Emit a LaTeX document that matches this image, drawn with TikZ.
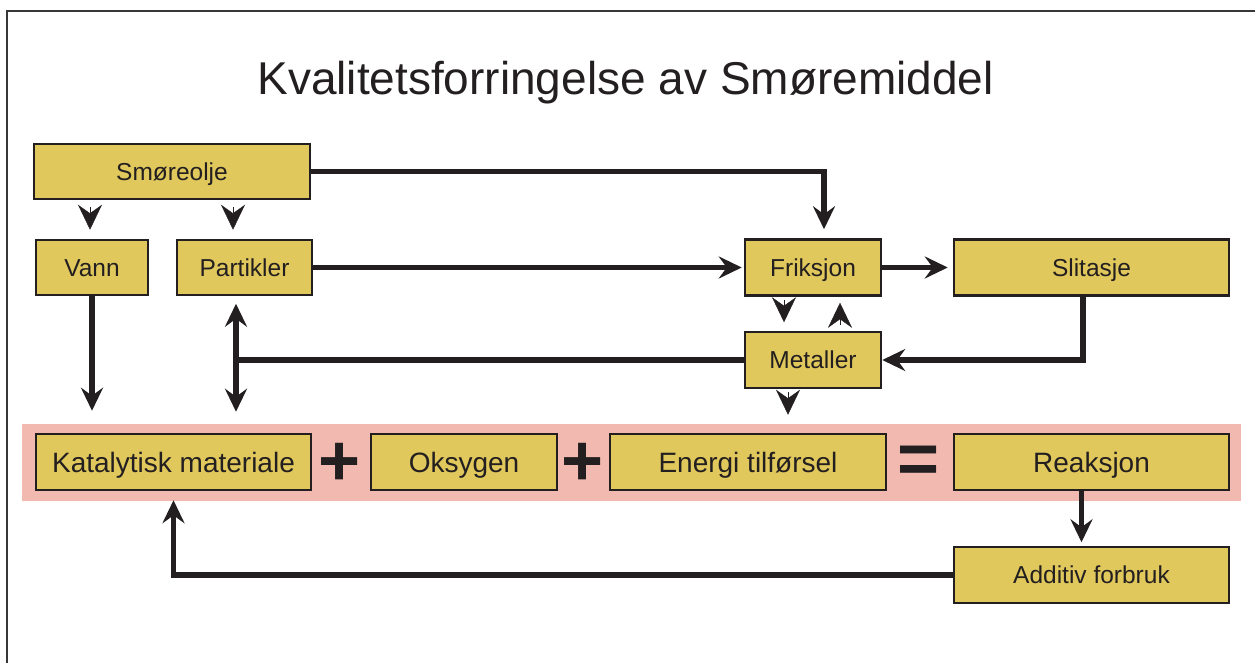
\documentclass[tikz,border=0pt]{standalone}
\usepackage{fontspec}
\setmainfont{Liberation Sans}
\usetikzlibrary{arrows.meta}
\definecolor{ink}{RGB}{35,31,32}
\definecolor{boxfill}{RGB}{224,200,92}
\definecolor{band}{RGB}{242,185,176}
\definecolor{framec}{RGB}{55,55,55}
\begin{document}
\begin{tikzpicture}[x=1pt,y=-1pt,
  box/.style={draw=ink, line width=2.5pt, fill=boxfill, inner sep=0pt, text=ink,
    text depth=0pt, align=center},
  small/.style={font=\fontsize{24.5}{28}\selectfont, text height=17.5pt},
  big/.style={font=\fontsize{28}{32}\selectfont, text height=20pt},
  conn/.style={draw=ink, line width=5.5pt},
  tip/.style={-{Stealth[length=23pt,width=22pt,inset=8pt]}},
  tipboth/.style={{Stealth[length=23pt,width=22pt,inset=8pt]}-{Stealth[length=23pt,width=22pt,inset=8pt]}},
  lone/.style={draw=ink, line width=0.4pt, -{Stealth[length=25pt,width=24pt,inset=8.5pt]}},
  opsym/.style={text=ink, inner sep=0pt, font=\fontsize{72}{72}\selectfont\bfseries}
]
\clip (0,0) rectangle (1255,663);
% frame
\draw[framec, line width=2pt] (7,11) rectangle (1275,690);
% title
\node[text=ink, inner sep=0pt, text height=33pt, text depth=0pt,
      font=\fontsize{46}{52}\selectfont] (title) at (625.5,78.5) {Kvalitetsforringelse av Smøremiddel};
% band
\fill[band] (22,424) rectangle (1241,501);
% boxes
\node[box, small, minimum width=276, minimum height=55] (smor) at (172,171.5) {Smøreolje};
\node[box, small, minimum width=112, minimum height=55] (vann) at (92,267.5) {Vann};
\node[box, small, minimum width=135, minimum height=55] (part) at (244.5,267.5) {Partikler};
\node[box, small, minimum width=136, minimum height=56] (frik) at (813,267.5) {Friksjon};
\node[box, small, minimum width=275, minimum height=56] (slit) at (1091.5,267.5) {Slitasje};
\node[box, small, minimum width=136, minimum height=56] (met) at (813,360) {Metaller};
\node[box, big, minimum width=275, minimum height=56] (kat) at (173.5,462) {Katalytisk materiale};
\node[box, big, minimum width=186, minimum height=56] (oks) at (464,462) {Oksygen};
\node[box, big, minimum width=276, minimum height=56] (energi) at (748,462) {Energi tilførsel};
\node[box, big, minimum width=275, minimum height=56] (reak) at (1091.5,462) {Reaksjon};
\node[box, small, minimum width=275, minimum height=56] (add) at (1091.5,575) {Additiv forbruk};
% operators
\node[opsym] (p1) at (340,464) {+};
\node[opsym] (p2) at (583,464) {+};
\node[opsym] (eq) at (919,465) {=};
% helper coordinates
\coordinate (c1) at (824,0);
\coordinate (c2) at (1083,0);
\coordinate (c3) at (236,0);
\coordinate (c4) at (90,0);
\coordinate (c5) at (233,0);
\coordinate (c6) at (784,0);
\coordinate (c7) at (840,0);
\coordinate (c8) at (788,0);
\coordinate (c9) at (173.5,0);
\coordinate (c10) at (1081.5,0);
% connectors
\draw[conn, tip, shorten >=9pt] (smor.east) -| (frik.north -| c1);
\draw[conn, tip, shorten >=2pt] (part.east) -- (frik.west);
\draw[conn, tip, shorten >=5pt] (frik.east) -- (slit.west);
\draw[conn, tip] (slit.south -| c2) |- (met.east);
\draw[conn] (met.west) -- (met.west -| c3);
\draw[conn, tipboth, shorten <=7.5pt, shorten >=21pt] (part.south -| c3) -- (kat.north -| c3);
\draw[conn, tip, shorten >=22pt] (vann.south) -- (kat.north -| vann.south);
\draw[conn, tip, shorten >=3.5pt] (reak.south -| c10) -- (add.north -| c10);
\draw[conn, tip, shorten >=9pt] (add.west) -| (kat.south -| c9);
% detached arrow heads
\draw[lone, shorten <=7pt, shorten >=9pt] (smor.south -| c4) -- (vann.north -| c4);
\draw[lone, shorten <=7pt, shorten >=9pt] (smor.south -| c5) -- (part.north -| c5);
\draw[lone, shorten <=3pt, shorten >=8.5pt] (frik.south -| c6) -- (met.north -| c6);
\draw[lone, shorten <=5.5pt, shorten >=6pt] (met.north -| c7) -- (frik.south -| c7);
\draw[lone, shorten <=3pt, shorten >=18pt] (met.south -| c8) -- (energi.north -| c8);
\end{tikzpicture}
\end{document}
